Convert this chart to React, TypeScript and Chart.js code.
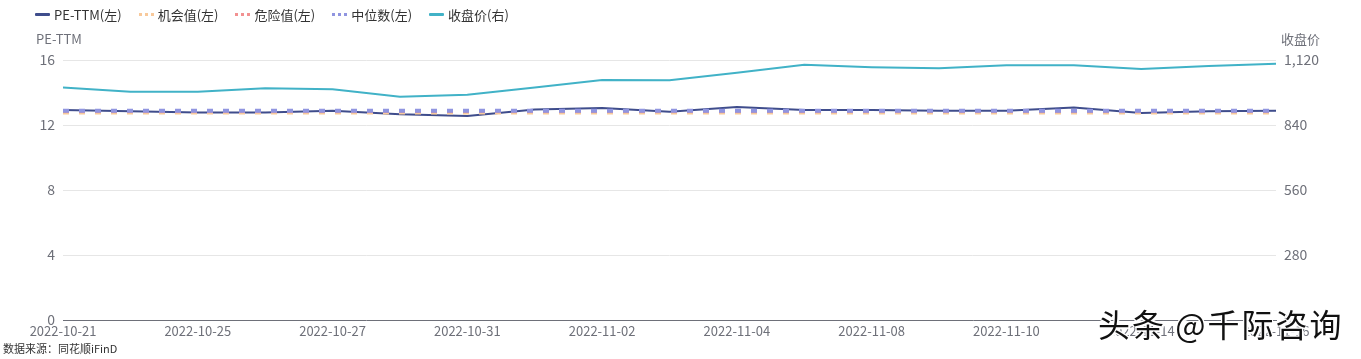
import React, { useEffect, useRef } from "react";
import { Chart, registerables } from "chart.js";

Chart.register(...registerables);

const dates = [
  "2022-10-21", "2022-10-24", "2022-10-25", "2022-10-26", "2022-10-27",
  "2022-10-28", "2022-10-31", "2022-11-01", "2022-11-02", "2022-11-03",
  "2022-11-04", "2022-11-07", "2022-11-08", "2022-11-09", "2022-11-10",
  "2022-11-11", "2022-11-14", "2022-11-15", "2022-11-16",
];
const peTTM = [12.92, 12.84, 12.77, 12.77, 12.88, 12.66, 12.55, 12.96, 13.04, 12.82, 13.1, 12.92, 12.92, 12.88, 12.88, 13.07, 12.74, 12.84, 12.88];
const opportunityValue = dates.map(() => 12.77);
const dangerValue = dates.map(() => 12.86);
const medianValue = dates.map(() => 12.88);
const closePrice = [1002, 983, 983, 998, 994, 962, 970, 1002, 1034, 1033, 1065, 1100, 1089, 1084, 1097, 1097, 1081, 1094, 1104];
const leftTicks = [0, 4, 8, 12, 16];
const rightTicks = [0, 280, 560, 840, 1120];

const FONT = '"Noto Sans CJK SC", "Noto Sans", sans-serif';

const legendItems = [
  { label: "PE-TTM(左)", color: "#3f4d8c", dotted: false },
  { label: "机会值(左)", color: "#f8c99b", dotted: true },
  { label: "危险值(左)", color: "#f29191", dotted: true },
  { label: "中位数(左)", color: "#9095e0", dotted: true },
  { label: "收盘价(右)", color: "#41b2c7", dotted: false },
];

export default function App() {
  const ref = useRef<HTMLCanvasElement | null>(null);
  useEffect(() => {
    if (!ref.current) return;
    const dotted = { borderWidth: 4, borderDash: [6, 10], borderCapStyle: "butt" as const, pointRadius: 0, tension: 0, fill: false };
    const chart = new Chart(ref.current, {
      type: "line",
      data: {
        labels: dates,
        datasets: [
          { label: "PE-TTM(左)", data: peTTM, borderColor: "#3f4d8c", borderWidth: 2, pointRadius: 0, tension: 0, yAxisID: "y", order: 5 },
          { label: "机会值(左)", data: opportunityValue, borderColor: "#f8c99b", yAxisID: "y", order: 4, ...dotted },
          { label: "危险值(左)", data: dangerValue, borderColor: "#f29191", yAxisID: "y", order: 3, ...dotted },
          { label: "中位数(左)", data: medianValue, borderColor: "#9095e0", yAxisID: "y", order: 2, ...dotted },
          { label: "收盘价(右)", data: closePrice, borderColor: "#41b2c7", borderWidth: 2, pointRadius: 0, tension: 0, yAxisID: "y1", order: 1 },
        ],
      },
      options: {
        animation: false,
        responsive: false,
        maintainAspectRatio: false,
        layout: { padding: { top: 60, left: 0, right: 0, bottom: 0 } },
        plugins: { legend: { display: false }, tooltip: { enabled: false } },
        scales: {
          x: {
            type: "category",
            offset: false,
            grid: { display: false, drawTicks: false },
            border: { display: true, color: "#6e7079", width: 1 },
            ticks: {
              autoSkip: false,
              maxRotation: 0,
              minRotation: 0,
              padding: 3,
              color: "#6e7079",
              font: { family: FONT, size: 13 },
              callback: (_v: any, i: number) => (i % 2 === 0 ? dates[i] : ""),
            },
            afterFit: (s: any) => { s.height = 39; },
          },
          y: {
            position: "left",
            min: 0,
            max: 16,
            afterBuildTicks: (s: any) => { s.ticks = leftTicks.map((v) => ({ value: v })); },
            grid: { color: "#e6e6e6", drawTicks: false },
            border: { display: false },
            ticks: { padding: 8, color: "#6e7079", font: { family: FONT, size: 14 } },
            afterFit: (s: any) => { s.width = 63; },
          },
          y1: {
            position: "right",
            min: 0,
            max: 1120,
            afterBuildTicks: (s: any) => { s.ticks = rightTicks.map((v) => ({ value: v })); },
            grid: { drawOnChartArea: false, drawTicks: false },
            border: { display: false },
            ticks: {
              padding: 8,
              color: "#6e7079",
              font: { family: FONT, size: 14 },
              callback: (v: any) => Number(v).toLocaleString("en-US"),
            },
            afterFit: (s: any) => { s.width = 85; },
          },
        },
      },
    });
    return () => chart.destroy();
  }, []);

  return (
    <div style={{ position: "fixed", left: 0, top: 0, width: 1361, height: 359, background: "#fff", overflow: "hidden", fontFamily: FONT }}>
      <canvas ref={ref} width={1361} height={359} style={{ position: "absolute", left: 0, top: 0, width: 1361, height: 359 }} />
      <div style={{ position: "absolute", left: 35, top: 4, display: "flex", alignItems: "center", height: 20, fontSize: 13, color: "#333" }}>
        {legendItems.map((it, i) => (
          <div key={i} style={{ display: "flex", alignItems: "center", marginRight: 17 }}>
            {it.dotted ? (
              <div style={{ width: 15, height: 3, marginRight: 4, backgroundImage: `repeating-linear-gradient(90deg, ${it.color} 0 3px, transparent 3px 6px)` }} />
            ) : (
              <div style={{ width: 15, height: 3, marginRight: 4, background: it.color, borderRadius: 1 }} />
            )}
            <span>{it.label}</span>
          </div>
        ))}
      </div>
      <div style={{ position: "absolute", left: 36, top: 29, fontSize: 13, color: "#6e7079" }}>PE-TTM</div>
      <div style={{ position: "absolute", left: 1281, top: 29, fontSize: 13, color: "#6e7079" }}>收盘价</div>
      <div style={{ position: "absolute", left: 3, top: 340, fontSize: 11, color: "#333" }}>数据来源：同花顺iFinD</div>
      <div style={{ position: "absolute", left: 1098, top: 300, fontSize: 32, fontWeight: 400, color: "#111", letterSpacing: 2, textShadow: "1px 1px 0 #fff, -1px -1px 0 #fff, 2px 2px 1px #fff, -1px 1px 0 #fff, 1px -1px 0 #fff" }}>头条 @千际咨询</div>
    </div>
  );
}
